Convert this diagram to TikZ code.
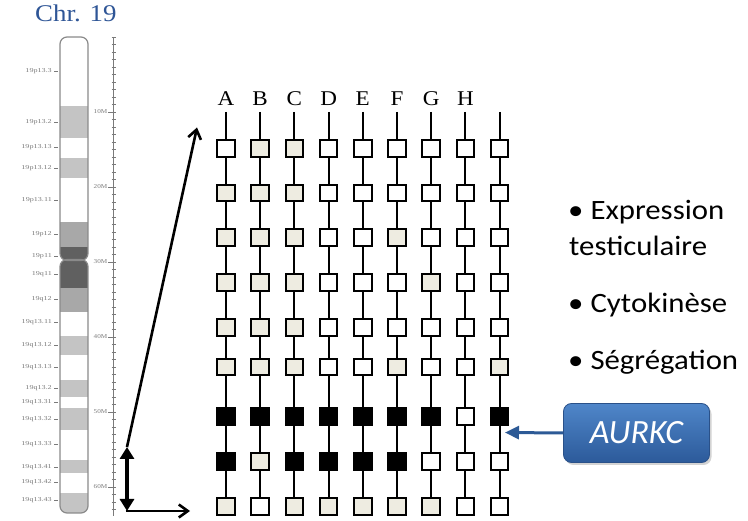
\documentclass[tikz,border=0pt]{standalone}
\usepackage{fontspec}
\setmainfont{Liberation Serif}
\newfontfamily\calib{Carlito}
\usetikzlibrary{arrows.meta,shadows}

\definecolor{beige}{HTML}{EEECE1}
\definecolor{titleblue}{HTML}{2E5596}
\definecolor{boxtop}{HTML}{4F86C9}
\definecolor{boxbot}{HTML}{2C5A9A}
\definecolor{boxedge}{HTML}{2A5189}
\definecolor{arrowblue}{HTML}{2D5A96}
\definecolor{bandgray}{HTML}{C4C4C4}
\definecolor{hatchlight}{HTML}{A8A8A8}
\definecolor{hatchdark}{HTML}{606060}
\definecolor{chredge}{HTML}{8A8A8A}
\definecolor{tinytext}{HTML}{7A7A7A}

\tikzset{
  x=1pt, y=-1pt,
  cell/.style={draw=black, line width=2pt, minimum width=17.5pt, minimum height=16.5pt,
               inner sep=0pt, fill=white},
  cw/.style={cell, fill=white},
  cb/.style={cell, fill=beige},
  ck/.style={cell, fill=black},
  wire/.style={line width=2pt, black},
  collabel/.style={font=\fontsize{21}{21}\selectfont, inner sep=0pt},
  bandlabel/.style={font=\fontsize{6}{6}\selectfont, text=tinytext, anchor=east, inner sep=0pt},
  scalelabel/.style={font=\fontsize{6}{6}\selectfont, text=tinytext, anchor=east, inner sep=0pt},
  bullettext/.style={font=\calib\fontsize{28}{28}\selectfont, anchor=base west, inner sep=0pt},
}

\begin{document}
\begin{tikzpicture}
\useasboundingbox (0,0) rectangle (748,521);

% ---------- chromosome 19 ideogram ----------
\node[font=\fontsize{24}{24}\selectfont, text=titleblue, anchor=base west, inner sep=0pt]
  (title) at (35,22) {\scalebox{1.12}[1]{Chr. 19}};

\begin{scope}
  \clip[rounded corners=7pt] (60,37) rectangle (88,260.5);
  \fill[white] (60,37) rectangle (88,106);
  \fill[bandgray] (60,106) rectangle (88,138);
  \fill[white] (60,138) rectangle (88,158);
  \fill[bandgray] (60,158) rectangle (88,178);
  \fill[white] (60,178) rectangle (88,222);
  \fill[hatchlight] (60,222) rectangle (88,247);
  \fill[hatchdark] (60,247) rectangle (88,261);
\end{scope}
\begin{scope}
  \clip[rounded corners=7pt] (60,259.5) rectangle (88,513);
  \fill[hatchdark] (60,259) rectangle (88,288);
  \fill[hatchlight] (60,288) rectangle (88,312);
  \fill[white] (60,312) rectangle (88,336);
  \fill[bandgray] (60,336) rectangle (88,355);
  \fill[white] (60,355) rectangle (88,380);
  \fill[bandgray] (60,380) rectangle (88,397);
  \fill[white] (60,397) rectangle (88,408);
  \fill[bandgray] (60,408) rectangle (88,430);
  \fill[white] (60,430) rectangle (88,460);
  \fill[bandgray] (60,460) rectangle (88,473);
  \fill[white] (60,473) rectangle (88,493);
  \fill[bandgray] (60,493) rectangle (88,513);
\end{scope}
\draw[chredge, line width=1.2pt, rounded corners=7pt] (60,37) rectangle (88,260.5);
\draw[chredge, line width=1.2pt, rounded corners=7pt] (60,259.5) rectangle (88,513);

% band names with their ticks
\foreach \lab/\yy in {19p13.3/71, 19p13.2/122, 19p13.13/147, 19p13.12/168, 19p13.11/200,
                      19p12/234, 19p11/256, 19q11/274, 19q12/299, 19q13.11/322,
                      19q13.12/345, 19q13.13/367, 19q13.2/388, 19q13.31/402,
                      19q13.32/419, 19q13.33/444, 19q13.41/467, 19q13.42/482, 19q13.43/500} {
  \node[bandlabel] at (52,\yy) {\scalebox{1.35}[1]{\lab}};
  \draw[tinytext, line width=0.7pt] (54,\yy) -- (58,\yy);
}

% megabase ruler
\draw[tinytext, line width=0.8pt] (113,37) -- (113,516);
\foreach \k in {0,...,63} {
  \draw[tinytext, line width=0.6pt] (111.5,37+7.5*\k) -- (115.5,37+7.5*\k);
}
\foreach \m in {1,...,6} {
  \draw[tinytext, line width=0.8pt] (108,37+75*\m) -- (116,37+75*\m);
  \node[scalelabel] at (107.5,37+75*\m) {\scalebox{1.2}[1]{\m 0M}};
}

% ---------- haplotype grid ----------
\def\colx{{226,260.2,294.4,328.6,362.8,397,431.2,465.4,499.6}}
\def\rowy{{148.3,192.8,237.5,282.5,327.5,367,416.7,461.7,506.7}}

% fill codes per row: w = white, b = beige, k = black
\def\rowA{{"w","b","b","w","w","w","w","w","w"}}
\def\rowB{{"b","b","b","w","w","w","w","w","w"}}
\def\rowC{{"b","b","b","w","w","b","w","w","w"}}
\def\rowD{{"b","b","b","w","w","w","b","w","w"}}
\def\rowE{{"b","b","b","w","w","w","w","w","w"}}
\def\rowF{{"b","b","b","w","w","b","w","w","b"}}
\def\rowG{{"k","k","k","k","k","k","k","w","k"}}
\def\rowH{{"k","b","k","k","k","k","w","w","w"}}
\def\rowI{{"b","w","b","b","b","b","b","w","w"}}

\foreach \c in {0,...,8} {
  \pgfmathsetmacro{\xx}{\colx[\c]}
  \coordinate (top\c) at (\xx,112);
  \foreach \r/\rowdef in {0/\rowA,1/\rowB,2/\rowC,3/\rowD,4/\rowE,5/\rowF,6/\rowG,7/\rowH,8/\rowI} {
    \pgfmathsetmacro{\yy}{\rowy[\r]}
    \pgfmathparse{\rowdef[\c]}
    \edef\kind{\pgfmathresult}
    \node[c\kind] (b\r-\c) at (\xx,\yy) {};
  }
  \draw[wire] (top\c) -- (b0-\c);
  \foreach \r [evaluate=\r as \rn using int(\r+1)] in {0,...,7} {
    \draw[wire] (b\r-\c) -- (b\rn-\c);
  }
}

% column letters
\foreach \c/\lab in {0/A,1/B,2/C,3/D,4/E,5/F,6/G,7/H} {
  \pgfmathsetmacro{\xx}{\colx[\c]}
  \node[collabel] (lab\c) at (\xx,98.5) {\scalebox{1.1}[1]{\lab}};
}

% ---------- zoom arrows from the ruler to the grid ----------
\coordinate (dtop) at (127,447);
\coordinate (dbot) at (127,511);
\coordinate (slanttip) at (197,127.5);
\coordinate (horiztip) at (190,511);

\draw[line width=2.6pt, -{Straight Barb[length=9pt,width=13pt,line width=2.6pt]}]
  (dtop) -- (slanttip);
\draw[line width=2.6pt, -{Straight Barb[length=9pt,width=13pt,line width=2.6pt]}]
  ([xshift=-1.3pt]dbot) -- (horiztip);
\draw[line width=4pt, {Triangle[length=12pt,width=14pt]}-{Triangle[length=12pt,width=14pt]}]
  (dtop) -- (dbot);

% ---------- gene box ----------
\node[rounded corners=8pt, minimum width=146pt, minimum height=59pt,
      top color=boxtop, bottom color=boxbot, draw=boxedge, line width=0.8pt,
      drop shadow={shadow xshift=2pt, shadow yshift=-2.5pt, opacity=0.35},
      text=white, font=\calib\itshape\fontsize{34}{34}\selectfont]
  (gene) at (636.5,433) {AURKC};
\coordinate (genetip) at (505,432.5);
\draw[arrowblue, line width=3pt, -{Triangle[length=14pt,width=13pt]}]
  (gene.west) -- (genetip);

% ---------- functions ----------
\node[bullettext] (f1) at (568,220) {\scalebox{1.1}[1]{\textbullet\ Expression}};
\node[bullettext] (f2) at (569,256) {\scalebox{1.1}[1]{testiculaire}};
\node[bullettext] (f3) at (568,313) {\scalebox{1.1}[1]{\textbullet\ Cytokinèse}};
\node[bullettext] (f4) at (568,370) {\scalebox{1.1}[1]{\textbullet\ Ségrégation}};

\end{tikzpicture}
\end{document}
